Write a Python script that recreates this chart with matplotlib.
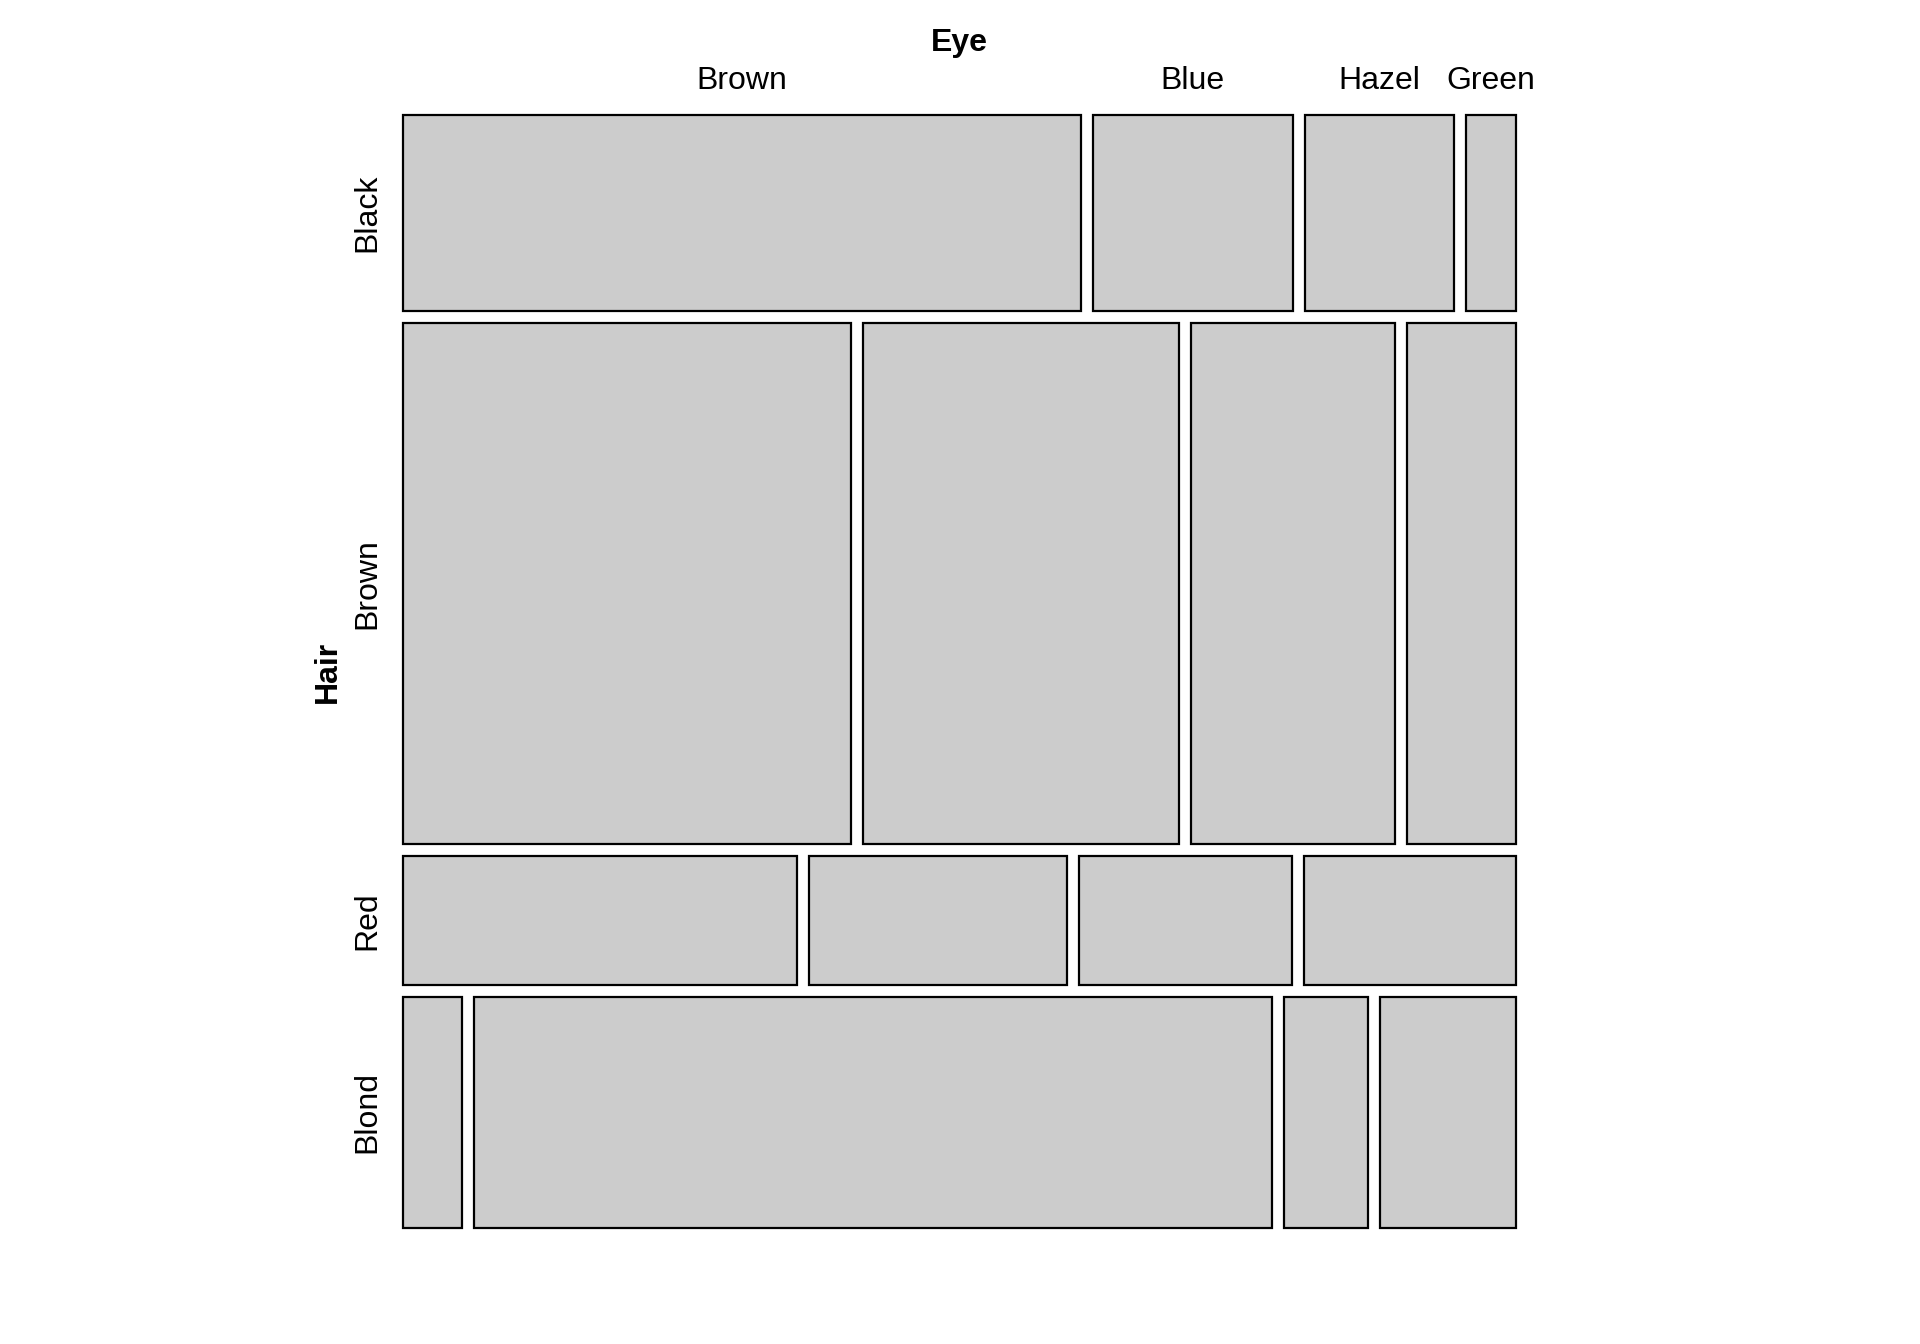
import matplotlib
matplotlib.use("Agg")
import matplotlib.pyplot as plt
from matplotlib.patches import Rectangle
import numpy as np

plt.rcParams['font.family'] = ['Liberation Sans', 'DejaVu Sans']

# HairEyeColor, summed over sex
hair = ["Black", "Brown", "Red", "Blond"]
eye = ["Brown", "Blue", "Hazel", "Green"]
black = [68, 20, 15, 5]
brown = [119, 84, 54, 29]
red = [26, 17, 14, 14]
blond = [7, 94, 10, 16]

counts = np.array([black, brown, red, blond], dtype=float)

# layout in pixels (figure is 1920 x 1344)
left, right, top, bottom = 403, 1516, 115, 1228
gap = 12

fig = plt.figure(figsize=(19.2, 13.44), dpi=100)
ax = fig.add_axes([0, 0, 1, 1])
ax.set_xlim(0, 1920)
ax.set_ylim(1344, 0)
ax.axis("off")

row_tot = counts.sum(axis=1)
avail_h = (bottom - top) - gap * (len(hair) - 1)
avail_w = (right - left) - gap * (len(eye) - 1)

y = top
for i, h in enumerate(hair):
    hh = row_tot[i] / row_tot.sum() * avail_h
    x = left
    for j, e in enumerate(eye):
        ww = counts[i, j] / row_tot[i] * avail_w
        ax.add_patch(Rectangle((x, y), ww, hh, facecolor="#cccccc",
                               edgecolor="black", linewidth=1.6))
        if i == 0:
            ax.text(x + ww / 2, 81, e, ha="center", va="center", fontsize=23)
        x += ww + gap
    ax.text(367, y + hh / 2, h, ha="center", va="center", rotation=90, fontsize=23)
    y += hh + gap

ax.text((left + right) / 2, 43, "Eye", ha="center", va="center",
        fontsize=23, fontweight="bold")
ax.text(328, (top + bottom) / 2, "Hair", ha="center", va="center",
        rotation=90, fontsize=23, fontweight="bold")

fig.savefig("out.png", dpi=100, facecolor="white")
